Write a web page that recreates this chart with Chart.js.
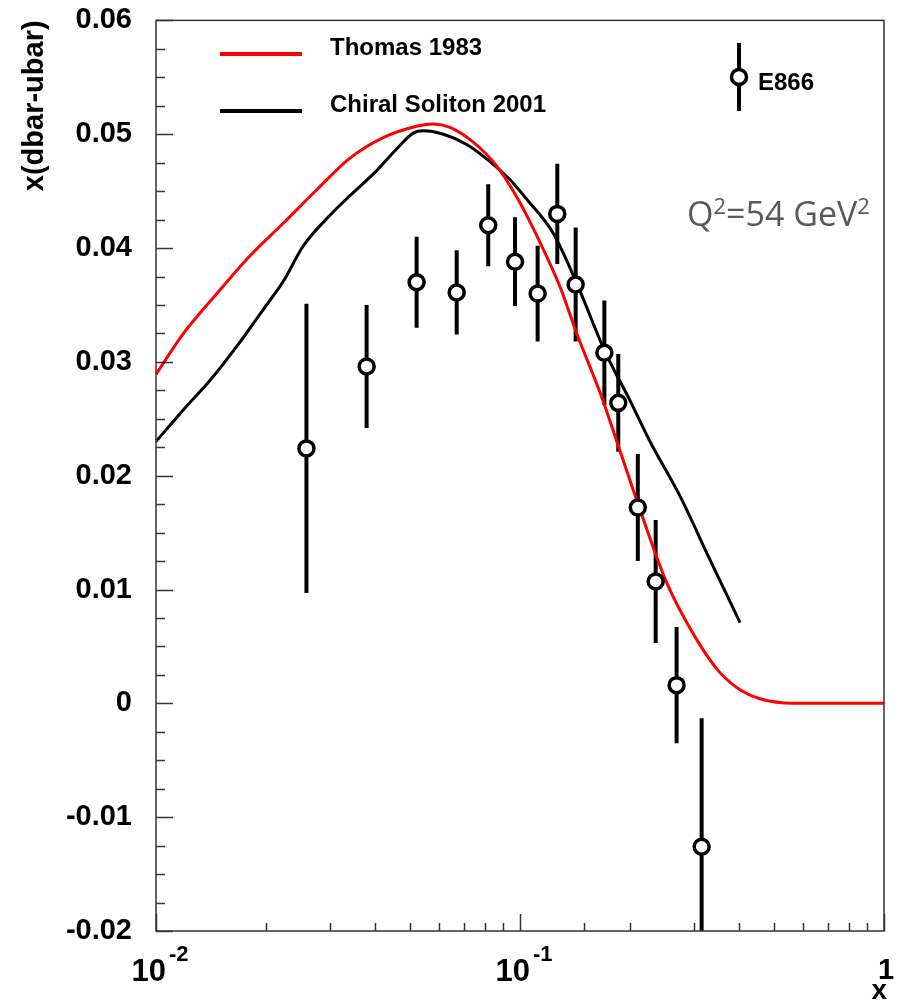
<!DOCTYPE html>
<html>
<head>
<meta charset="utf-8">
<script src="https://cdn.jsdelivr.net/npm/chart.js@4.4.1/dist/chart.umd.min.js"></script>
<style>
  body { margin: 0; background: #fff; }
  #wrap { width: 901px; height: 1000px; position: relative; }
</style>
</head>
<body>
<div id="wrap"><canvas id="chart"></canvas></div>
<script>
// E866 data points, x(dbar-ubar) with symmetric errors
const e866X = [0.0259, 0.0379, 0.0520, 0.0670, 0.0818, 0.0969, 0.1118, 0.1266, 0.1422, 0.1705, 0.1862, 0.2107, 0.2359, 0.2693, 0.3155];
const e866Y = [0.0224, 0.0296, 0.0370, 0.0361, 0.0420, 0.0388, 0.0360, 0.0430, 0.0368, 0.0308, 0.0264, 0.0172, 0.0107, 0.0016, -0.0126];
const e866Err = [0.0127, 0.0054, 0.0040, 0.0037, 0.0036, 0.0039, 0.0042, 0.0044, 0.0050, 0.0046, 0.0043, 0.0047, 0.0054, 0.0051, 0.0113];

// Thomas 1983 curve
const thomasX = [0.0100, 0.0119, 0.0147, 0.0181, 0.0224, 0.0276, 0.0341, 0.0421, 0.0520, 0.0578, 0.0642, 0.0744, 0.0863, 0.0979, 0.1135, 0.1288, 0.1432, 0.1659, 0.1882, 0.2137, 0.2529, 0.3058, 0.3543, 0.4022, 0.4563, 0.5633, 1.0000];
const thomasY = [0.0289, 0.0325, 0.0360, 0.0393, 0.0422, 0.0451, 0.0479, 0.0497, 0.0507, 0.0509, 0.0506, 0.0493, 0.0472, 0.0445, 0.0405, 0.0366, 0.0325, 0.0273, 0.0222, 0.0170, 0.0106, 0.0056, 0.0027, 0.0012, 0.0004, 0.0000, 0.0000];

// Chiral Soliton 2001 curve
const solitonX = [0.0100, 0.0119, 0.0141, 0.0167, 0.0197, 0.0224, 0.0254, 0.0301, 0.0341, 0.0404, 0.0458, 0.0509, 0.0542, 0.0616, 0.0714, 0.0827, 0.0939, 0.1043, 0.1234, 0.1432, 0.1712, 0.2006, 0.2276, 0.2752, 0.3327, 0.4022];
const solitonY = [0.0230, 0.0258, 0.0284, 0.0314, 0.0346, 0.0371, 0.0402, 0.0429, 0.0446, 0.0468, 0.0487, 0.0501, 0.0503, 0.0500, 0.0491, 0.0476, 0.0460, 0.0443, 0.0413, 0.0369, 0.0309, 0.0266, 0.0230, 0.0182, 0.0126, 0.0071];

const xDecades = [0.01, 0.1, 1];
const xDecadeExp = ["-2", "-1", ""];

const toPoints = (xs, ys) => xs.map((x, i) => ({ x: x, y: ys[i] }));

const FONT = "'Liberation Sans', Arial, sans-serif";

// draws the ROOT-like frame, inward ticks, error bars, legend and notes
const rootStyle = {
  id: "rootStyle",
  beforeDatasetsDraw(chart) {
    const ctx = chart.ctx;
    const xs = chart.scales.x, ys = chart.scales.y;
    const a = chart.chartArea;
    ctx.save();
    ctx.beginPath();
    ctx.rect(a.left, a.top, a.right - a.left, a.bottom - a.top);
    ctx.clip();
    ctx.strokeStyle = "#000";
    ctx.lineWidth = 4;
    e866X.forEach((x, i) => {
      const px = xs.getPixelForValue(x);
      ctx.beginPath();
      ctx.moveTo(px, ys.getPixelForValue(e866Y[i] + e866Err[i]));
      ctx.lineTo(px, ys.getPixelForValue(e866Y[i] - e866Err[i]));
      ctx.stroke();
    });
    ctx.restore();
  },
  afterDraw(chart) {
    const ctx = chart.ctx;
    const xs = chart.scales.x, ys = chart.scales.y;
    const a = chart.chartArea;
    ctx.save();

    // frame
    ctx.strokeStyle = "#333";
    ctx.lineWidth = 1.5;
    ctx.strokeRect(a.left, a.top, a.right - a.left, a.bottom - a.top);

    // y ticks, inward
    for (let k = 0; ; k++) {
      const v = ys.min + k * 0.0025;
      if (v > ys.max + 1e-9) break;
      const major = k % 4 === 0;
      const py = Math.round(ys.getPixelForValue(v)) + 0.5;
      ctx.beginPath();
      ctx.moveTo(a.left, py);
      ctx.lineTo(a.left + (major ? 17 : 9), py);
      ctx.stroke();
    }
    // x ticks, inward (log)
    xs.ticks.forEach(t => {
      const lg = Math.log10(t.value);
      const major = Math.abs(lg - Math.round(lg)) < 1e-6;
      const px = Math.round(xs.getPixelForValue(t.value)) + 0.5;
      ctx.beginPath();
      ctx.moveTo(px, a.bottom);
      ctx.lineTo(px, a.bottom - (major ? 17 : 8));
      ctx.stroke();
    });

    // x tick labels 10^n
    ctx.fillStyle = "#000";
    ctx.textBaseline = "alphabetic";
    xDecades.forEach((v, i) => {
      const px = xs.getPixelForValue(v);
      if (xDecadeExp[i] === "") {
        ctx.font = "bold 29px " + FONT;
        ctx.textAlign = "center";
        ctx.fillText("1", px + 2, 979);
      } else {
        ctx.font = "bold 31px " + FONT;
        ctx.textAlign = "right";
        ctx.fillText("10", px + 10, 981);
        ctx.font = "bold 22px " + FONT;
        ctx.textAlign = "left";
        ctx.fillText(xDecadeExp[i], px + 13, 961);
      }
    });
    // x axis title
    ctx.font = "bold 28px " + FONT;
    ctx.textAlign = "right";
    ctx.fillText("x", 887, 999);

    // legend for curves
    const curves = chart.data.datasets.filter(d => d.showLine);
    const legY = [54, 111];
    ctx.font = "bold 24px " + FONT;
    ctx.textAlign = "left";
    curves.forEach((d, i) => {
      ctx.strokeStyle = d.borderColor;
      ctx.lineWidth = 4;
      ctx.beginPath();
      ctx.moveTo(220, legY[i]);
      ctx.lineTo(302, legY[i]);
      ctx.stroke();
      ctx.fillStyle = "#000";
      ctx.fillText(d.label, 330, legY[i] + 1);
    });

    // legend for data
    const pts = chart.data.datasets[0];
    ctx.strokeStyle = "#000";
    ctx.lineWidth = 4;
    ctx.beginPath();
    ctx.moveTo(739, 43);
    ctx.lineTo(739, 111);
    ctx.stroke();
    ctx.beginPath();
    ctx.arc(739, 77, 7.5, 0, Math.PI * 2);
    ctx.fillStyle = "#fff";
    ctx.fill();
    ctx.lineWidth = 3.5;
    ctx.stroke();
    ctx.fillStyle = "#000";
    ctx.font = "bold 24px " + FONT;
    ctx.fillText(pts.label, 758, 90);

    // Q^2 note
    ctx.fillStyle = "#595959";
    let x = 687;
    const base = 226;
    const part = (txt, size, dy) => {
      ctx.font = size + "px 'Open Sans', sans-serif";
      ctx.fillText(txt, x, base - dy);
      x += ctx.measureText(txt).width;
    };
    part("Q", 34, 0);
    part("2", 22, 12);
    part("=54 GeV", 34, 0);
    part("2", 22, 12);

    ctx.restore();
  }
};

new Chart(document.getElementById("chart"), {
  type: "scatter",
  data: {
    datasets: [
      {
        label: "E866",
        data: toPoints(e866X, e866Y),
        showLine: false,
        pointRadius: 7.5,
        pointBorderWidth: 3.5,
        pointBackgroundColor: "#fff",
        pointBorderColor: "#000"
      },
      {
        label: "Thomas 1983",
        data: toPoints(thomasX, thomasY),
        showLine: true,
        borderColor: "#ff0000",
        borderWidth: 3,
        pointRadius: 0,
        cubicInterpolationMode: "monotone"
      },
      {
        label: "Chiral Soliton 2001",
        data: toPoints(solitonX, solitonY),
        showLine: true,
        borderColor: "#000",
        borderWidth: 3,
        pointRadius: 0,
        cubicInterpolationMode: "monotone"
      }
    ]
  },
  options: {
    responsive: true,
    maintainAspectRatio: false,
    animation: false,
    layout: { padding: { top: 0, right: 17, left: 0, bottom: 0 } },
    plugins: { legend: { display: false }, tooltip: { enabled: false } },
    scales: {
      x: {
        type: "logarithmic",
        min: 0.01,
        max: 1,
        grid: { display: false, drawTicks: false },
        border: { display: false },
        ticks: { display: false },
        afterFit: s => { s.height = 69; }
      },
      y: {
        min: -0.02,
        max: 0.06,
        grid: { display: false, drawTicks: true, tickLength: 21 },
        border: { display: false },
        ticks: {
          stepSize: 0.01,
          padding: 3,
          color: "#000",
          font: { family: FONT, size: 29, weight: "bold" },
          callback: v => String(Math.round(v * 100) / 100)
        },
        title: {
          display: true,
          text: "x(dbar-ubar)",
          align: "end",
          color: "#000",
          font: { family: FONT, size: 29, weight: "bold" },
          padding: { top: 18, bottom: 0 }
        },
        afterFit: s => { s.width = 156; }
      }
    }
  },
  plugins: [rootStyle]
});
</script>
</body>
</html>
